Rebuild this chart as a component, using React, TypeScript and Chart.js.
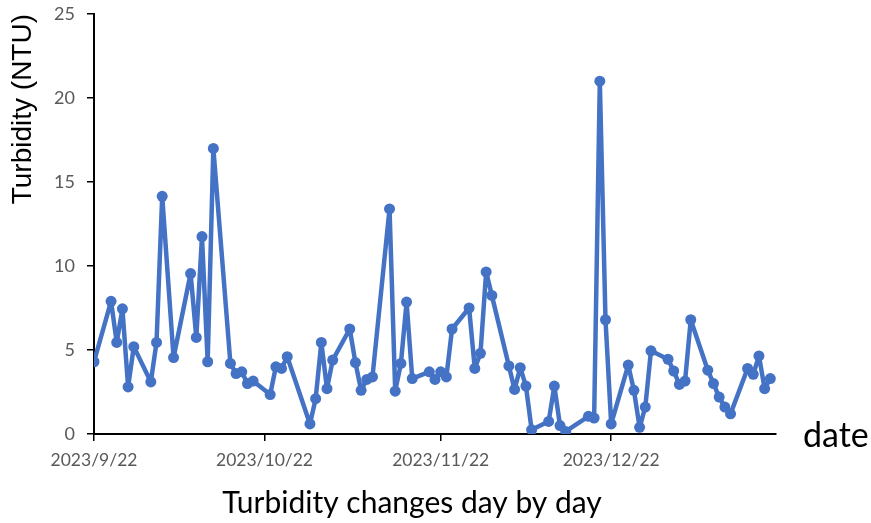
import React, { useEffect, useRef } from "react";
import { Chart, registerables } from "chart.js";

Chart.register(...registerables);

const START_DATE = "2023-09-22";

const dates: string[] = [
  "2023-09-22", "2023-09-25", "2023-09-26", "2023-09-27", "2023-09-28", "2023-09-29",
  "2023-10-02", "2023-10-03", "2023-10-04", "2023-10-06", "2023-10-09", "2023-10-10",
  "2023-10-11", "2023-10-12", "2023-10-13", "2023-10-16", "2023-10-17", "2023-10-18",
  "2023-10-19", "2023-10-20", "2023-10-23", "2023-10-24", "2023-10-25", "2023-10-26",
  "2023-10-30", "2023-10-31", "2023-11-01", "2023-11-02", "2023-11-03", "2023-11-06",
  "2023-11-07", "2023-11-08", "2023-11-09", "2023-11-10", "2023-11-13", "2023-11-14",
  "2023-11-15", "2023-11-16", "2023-11-17", "2023-11-20", "2023-11-21", "2023-11-22",
  "2023-11-23", "2023-11-24", "2023-11-27", "2023-11-28", "2023-11-29", "2023-11-30",
  "2023-12-01", "2023-12-04", "2023-12-05", "2023-12-06", "2023-12-07", "2023-12-08",
  "2023-12-11", "2023-12-12", "2023-12-13", "2023-12-14", "2023-12-18", "2023-12-19",
  "2023-12-20", "2023-12-21", "2023-12-22", "2023-12-25", "2023-12-26", "2023-12-27",
  "2023-12-28", "2023-12-29", "2024-01-01", "2024-01-02", "2024-01-03", "2024-01-04",
  "2024-01-05", "2024-01-08", "2024-01-09", "2024-01-10", "2024-01-11", "2024-01-12",
  "2024-01-15", "2024-01-16", "2024-01-17", "2024-01-18", "2024-01-19",
];

const turbidity: number[] = [
  4.3, 7.9, 5.45, 7.45, 2.8, 5.2,
  3.1, 5.45, 14.15, 4.55, 9.55, 5.75,
  11.75, 4.3, 17.0, 4.2, 3.6, 3.7,
  3.0, 3.15, 2.35, 4.0, 3.9, 4.6,
  0.6, 2.1, 5.45, 2.7, 4.4, 6.25,
  4.25, 2.6, 3.25, 3.4, 13.4, 2.55,
  4.2, 7.85, 3.3, 3.7, 3.25, 3.7,
  3.4, 6.25, 7.5, 3.9, 4.8, 9.65,
  8.25, 4.05, 2.65, 3.95, 2.85, 0.25,
  0.75, 2.85, 0.5, 0.15, 1.05, 0.95,
  21.0, 6.8, 0.6, 4.1, 2.6, 0.4,
  1.6, 4.95, 4.45, 3.75, 2.95, 3.15,
  6.8, 3.8, 3.0, 2.2, 1.6, 1.2,
  3.9, 3.55, 4.65, 2.7, 3.3,
];

const tickDates: string[] = ["2023-09-22", "2023-10-22", "2023-11-22", "2023-12-22"];
const tickLabels: string[] = ["2023/9/22", "2023/10/22", "2023/11/22", "2023/12/22"];
const axisEndDate = "2024-01-20";

const yTitle = "Turbidity (NTU)";
const xTitle = "Turbidity changes day by day";
const xEndLabel = "date";

function dayOffset(d: string): number {
  const [y, m, dd] = d.split("-").map(Number);
  const [y0, m0, d0] = START_DATE.split("-").map(Number);
  return (Date.UTC(y, m - 1, dd) - Date.UTC(y0, m0 - 1, d0)) / 86400000;
}

const BODY_FONT = "Lato, 'Open Sans', sans-serif";

export default function App() {
  const ref = useRef<HTMLCanvasElement | null>(null);

  useEffect(() => {
    if (!ref.current) return;
    const points = dates.map((d, i) => ({ x: dayOffset(d), y: turbidity[i] }));
    const tickVals = tickDates.map(dayOffset);

    const textPlugin = {
      id: "extraTexts",
      afterDraw(chart: any) {
        const ctx = chart.ctx;
        const area = chart.chartArea;
        ctx.save();
        ctx.fillStyle = "#000";
        ctx.textBaseline = "alphabetic";
        ctx.textAlign = "left";
        ctx.font = `34px ${BODY_FONT}`;
        ctx.fillText(xEndLabel, area.right + 27, area.bottom + 13);
        ctx.font = `30px ${BODY_FONT}`;
        ctx.textAlign = "center";
        ctx.fillText(xTitle, 412, 513);
        ctx.restore();
      },
    };

    const chart = new Chart(ref.current, {
      type: "line",
      data: {
        datasets: [
          {
            label: "Turbidity",
            data: points,
            borderColor: "#4472C4",
            backgroundColor: "#4472C4",
            borderWidth: 4.5,
            borderJoinStyle: "round",
            borderCapStyle: "round",
            pointRadius: 5.5,
            pointBackgroundColor: "#4472C4",
            pointBorderWidth: 0,
            tension: 0,
          },
        ],
      },
      options: {
        animation: false,
        responsive: true,
        maintainAspectRatio: false,
        layout: { padding: { left: 0, top: 14, right: 95, bottom: 0 } },
        plugins: {
          legend: { display: false },
          tooltip: { enabled: false },
        },
        scales: {
          x: {
            type: "linear",
            min: 0,
            max: dayOffset(axisEndDate),
            afterBuildTicks: (scale: any) => {
              scale.ticks = tickVals.map((v) => ({ value: v }));
            },
            afterFit: (scale: any) => {
              scale.height = 89;
              scale.paddingLeft = 0;
              scale.paddingRight = 0;
            },
            ticks: {
              autoSkip: false,
              maxRotation: 0,
              padding: 9,
              color: "#595959",
              font: { family: BODY_FONT, size: 17.5 },
              callback: (v: any) => {
                const i = tickVals.indexOf(Number(v));
                return i >= 0 ? tickLabels[i] : "";
              },
            },
            grid: {
              display: true,
              drawOnChartArea: false,
              drawTicks: true,
              tickLength: 7,
              color: "#000",
              lineWidth: 1.5,
            },
            border: { display: true, color: "#000", width: 2 },
          },
          y: {
            min: 0,
            max: 25,
            afterFit: (scale: any) => {
              scale.width = 94;
              scale.paddingTop = 0;
              scale.paddingBottom = 0;
            },
            ticks: {
              stepSize: 5,
              padding: 12,
              color: "#595959",
              font: { family: BODY_FONT, size: 18 },
            },
            grid: {
              display: true,
              drawOnChartArea: false,
              drawTicks: true,
              tickLength: 7,
              color: "#000",
              lineWidth: 1.5,
            },
            border: { display: true, color: "#000", width: 2 },
            title: {
              display: true,
              text: yTitle,
              align: "end",
              color: "#000",
              font: { family: "'Liberation Sans', Arial, sans-serif", size: 28 },
              padding: { top: 6, bottom: 0 },
            },
          },
        },
      },
      plugins: [textPlugin],
    } as any);

    return () => chart.destroy();
  }, []);

  return (
    <div style={{ position: "fixed", left: 0, top: 0, width: 871, height: 523, background: "#fff" }}>
      <canvas ref={ref} />
    </div>
  );
}
